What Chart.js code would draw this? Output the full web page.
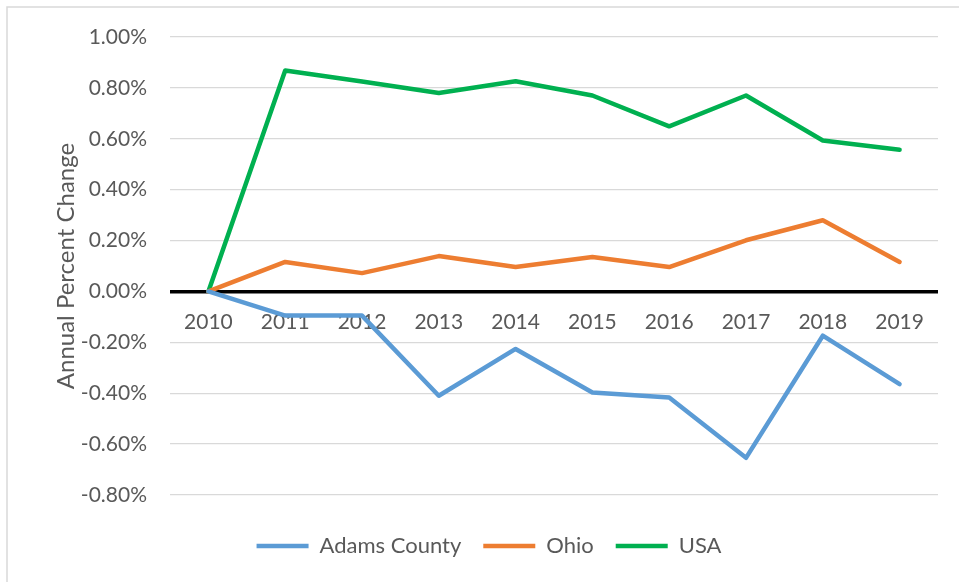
<!DOCTYPE html>
<html>
<head>
<meta charset="utf-8">
<script src="https://cdn.jsdelivr.net/npm/chart.js@4/dist/chart.umd.min.js"></script>
<style>
  html, body { margin: 0; padding: 0; background: #ffffff; }
  #wrap { position: relative; width: 959px; height: 582px; }
</style>
</head>
<body>
<div id="wrap"><canvas id="c" width="959" height="582"></canvas></div>
<script>
const years = ['2010', '2011', '2012', '2013', '2014', '2015', '2016', '2017', '2018', '2019'];
const adamsCounty = [0, -0.095, -0.095, -0.410, -0.226, -0.397, -0.417, -0.654, -0.174, -0.364];
const ohio = [0, 0.116, 0.072, 0.139, 0.096, 0.135, 0.096, 0.201, 0.280, 0.116];
const usa = [0, 0.868, 0.825, 0.780, 0.826, 0.770, 0.649, 0.770, 0.593, 0.557];
const seriesNames = ['Adams County', 'Ohio', 'USA'];
const yTicks = { min: -0.8, max: 1.0, step: 0.2 };

const textColor = '#595959';
const gridColor = '#D9D9D9';

const frame = {
  id: 'frame',
  beforeDraw(chart) {
    const ctx = chart.ctx;
    ctx.save();
    ctx.fillStyle = '#ffffff';
    ctx.fillRect(0, 0, chart.width, chart.height);
    ctx.strokeStyle = '#D9D9D9';
    ctx.lineWidth = 1.5;
    ctx.strokeRect(7, 7, 1200, 1200);
    ctx.restore();
  }
};

function ds(label, data, color) {
  return {
    label, data,
    borderColor: color, backgroundColor: color,
    borderWidth: 4.5, pointRadius: 0, pointHoverRadius: 0,
    tension: 0, borderCapStyle: 'round', borderJoinStyle: 'round',
    xAxisID: 'x', yAxisID: 'y'
  };
}

new Chart(document.getElementById('c'), {
  type: 'line',
  data: {
    labels: years,
    datasets: [
      ds(seriesNames[0], adamsCounty, '#5B9BD5'),
      ds(seriesNames[1], ohio, '#ED7D31'),
      ds(seriesNames[2], usa, '#00B050')
    ]
  },
  options: {
    responsive: false,
    animation: false,
    events: [],
    layout: { padding: { top: 37, right: 21, left: 40, bottom: 15 } },
    plugins: {
      tooltip: { enabled: false },
      legend: {
        position: 'bottom',
        labels: {
          usePointStyle: true,
          pointStyle: 'line',
          pointStyleWidth: 52,
          padding: 22,
          color: textColor,
          font: { family: 'Lato', size: 22 }
        }
      }
    },
    scales: {
      x: {
        type: 'category',
        position: { y: 0 },
        offset: true,
        grid: { display: false, drawTicks: false },
        border: { display: false },
        ticks: { color: textColor, font: { family: 'Lato', size: 21 }, padding: 18, maxRotation: 0 }
      },
      spacer: {
        type: 'category',
        position: 'bottom',
        display: true,
        grid: { display: false, drawTicks: false },
        border: { display: false },
        ticks: { display: false },
        afterFit(s) { s.height = 18; }
      },
      y: {
        position: 'left',
        min: yTicks.min,
        max: yTicks.max,
        afterFit(s) { s.width = 130; },
        border: { display: false },
        grid: {
          drawTicks: false,
          color: (c) => (c.tick && Math.abs(c.tick.value) < 1e-9) ? '#000000' : gridColor,
          lineWidth: (c) => (c.tick && Math.abs(c.tick.value) < 1e-9) ? 3.5 : 1.3
        },
        ticks: {
          stepSize: yTicks.step,
          padding: 23,
          color: textColor,
          font: { family: 'Lato', size: 21 },
          callback: (v) => (Math.abs(v) < 1e-9 ? 0 : v).toFixed(2) + '%'
        },
        title: {
          display: true,
          text: 'Annual Percent Change',
          color: textColor,
          font: { family: 'Lato', size: 24 },
          padding: { top: 12, bottom: 0 }
        }
      }
    }
  },
  plugins: [frame]
});
</script>
</body>
</html>
